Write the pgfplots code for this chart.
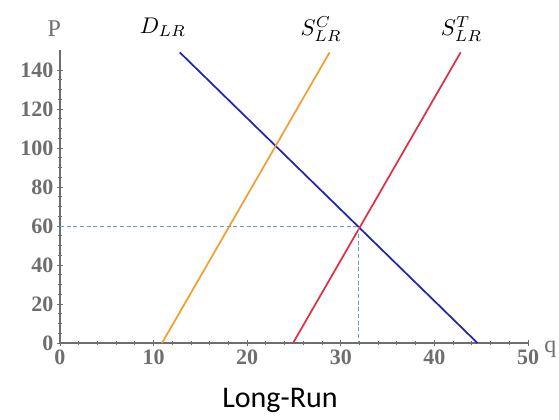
\documentclass[border=0pt]{standalone}
\usepackage{fontspec}
\setmainfont{Liberation Serif}
\newfontfamily\calibri{Carlito}
\usepackage{graphicx}
\usepackage{pgfplots}
\pgfplotsset{compat=1.18}
\definecolor{axgray}{HTML}{6E6E6E}
\definecolor{dblue}{HTML}{2323B4}
\definecolor{sorange}{HTML}{F0A030}
\definecolor{sred}{HTML}{E03040}
\definecolor{dashblue}{HTML}{6A9BC8}

\begin{document}
\begin{tikzpicture}
  \path[use as bounding box] (-45pt,-57pt) rectangle (374.25pt,257.25pt);
  \begin{axis}[
    scale only axis,
    width=351pt, height=219.4pt,
    xmin=0, xmax=50, ymin=0, ymax=150,
    axis lines=left,
    axis line style={axgray, line width=0.9pt, -},
    xtick={0,10,...,50}, ytick={0,20,...,140},
    minor x tick num=4, minor y tick num=3,
    tick style={axgray, line width=0.7pt},
    major tick length=5pt, minor tick length=3pt,
    tick label style={font=\fontsize{16.5}{18}\selectfont\bfseries, text=axgray},
    /pgf/number format/assume math mode=true,
    xticklabel style={yshift=1pt},
    yticklabel style={xshift=1pt},
    clip=false,
  ]
    % demand and the two supply curves
    \addplot[dblue, line width=1.3pt] coordinates {(12.8,149) (44.6,0)};
    \addplot[sorange, line width=1.3pt] coordinates {(10.9,0) (28.8,149)};
    \addplot[sred, line width=1.3pt] coordinates {(24.9,0) (42.8,149)};
    % equilibrium guides
    \addplot[dashblue, densely dashed, line width=0.4pt] coordinates {(0,60) (31.9,60) (31.9,0)};

    \node[font=\fontsize{18}{20}\selectfont, text=axgray] at (axis cs:-0.6,161) {P};
    \node[font=\fontsize{18}{20}\selectfont, text=axgray] at (axis cs:52.4,-3) {q};
    \node at (axis cs:11,162) {\scalebox{1.7}{$D_{LR}$}};
    \node at (axis cs:27.9,161) {\scalebox{1.7}{$S^{C}_{LR}$}};
    \node at (axis cs:42.9,161) {\scalebox{1.7}{$S^{T}_{LR}$}};
    \node[font=\calibri\fontsize{22.5}{25}\selectfont] at (axis cs:23.5,-29.5) {Long-Run};
  \end{axis}
\end{tikzpicture}
\end{document}
